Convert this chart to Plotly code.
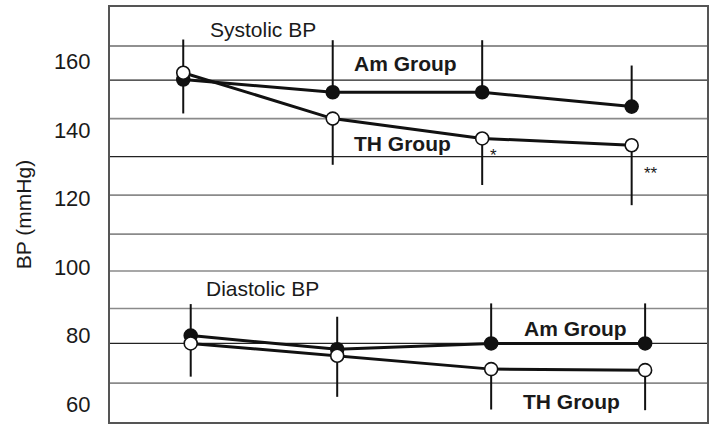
import plotly.graph_objects as go

# ---- data ----
time_points_sys = [1, 2, 3, 4]
time_points_dia = [1.05, 2.03, 3.06, 4.09]

sys_am = [154.8, 151.1, 151.1, 146.9]
sys_am_err_up = [0, 15.2, 15.2, 12.0]
sys_am_err_down = [9.9, 0, 0, 0]

sys_th = [156.8, 143.4, 137.6, 135.6]
sys_th_err_up = [9.7, 0, 0, 0]
sys_th_err_down = [0, 13.5, 13.6, 17.5]

dia_am = [80.0, 76.0, 77.7, 77.7]
dia_am_err_up = [9.2, 9.5, 11.7, 11.7]
dia_am_err_down = [0, 0, 0, 0]

dia_th = [77.7, 74.1, 70.2, 69.9]
dia_th_err_up = [0, 0, 0, 0]
dia_th_err_down = [9.7, 12.0, 11.8, 11.7]

y_ticks = [60, 80, 100, 120, 140, 160]
grid_dark = [164.6, 154.65, 132.3, 77.7]
grid_light = [143.4, 121.05, 109.65, 98.85, 87.9, 66.1]

FONT = "Liberation Sans, Arial, Helvetica, sans-serif"

fig = go.Figure()


def add_series(x, y, up, down, filled):
    fig.add_trace(go.Scatter(
        x=x, y=y, mode="lines+markers",
        line=dict(color="#111", width=3),
        marker=dict(size=13, symbol="circle",
                    color="#111" if filled else "white",
                    line=dict(color="#111", width=1.6)),
        error_y=dict(type="data", symmetric=False, array=up, arrayminus=down,
                     color="#111", thickness=2, width=0),
        showlegend=False, hoverinfo="skip"))


add_series(time_points_sys, sys_am, sys_am_err_up, sys_am_err_down, True)
add_series(time_points_sys, sys_th, sys_th_err_up, sys_th_err_down, False)
add_series(time_points_dia, dia_am, dia_am_err_up, dia_am_err_down, True)
add_series(time_points_dia, dia_th, dia_th_err_up, dia_th_err_down, False)

shapes = []
for v in grid_dark:
    shapes.append(dict(type="line", xref="paper", yref="y", x0=0, x1=1, y0=v, y1=v,
                       line=dict(color="#222", width=1.2), layer="below"))
for v in grid_light:
    shapes.append(dict(type="line", xref="paper", yref="y", x0=0, x1=1, y0=v, y1=v,
                       line=dict(color="#8a8a8a", width=1.6), layer="below"))

annotations = [
    dict(x=1.533, y=169.5, text="Systolic BP"),
    dict(x=2.484, y=159.5, text="<b>Am Group</b>"),
    dict(x=2.464, y=136.2, text="<b>TH Group</b>"),
    dict(x=1.533, y=93.8, text="Diastolic BP"),
    dict(x=3.627, y=82.1, text="<b>Am Group</b>"),
    dict(x=3.600, y=60.7, text="<b>TH Group</b>"),
]
ann = []
for a in annotations:
    ann.append(dict(x=a["x"], y=a["y"], xref="x", yref="y", text=a["text"],
                    showarrow=False, xanchor="center", yanchor="middle",
                    font=dict(family=FONT, size=21, color="#1a1a1a")))

# significance marks next to TH systolic points
ann.append(dict(x=time_points_sys[2], y=sys_th[2], xref="x", yref="y", text="*",
                showarrow=False, xshift=11, yshift=-17,
                font=dict(family=FONT, size=17, color="#1a1a1a")))
ann.append(dict(x=time_points_sys[3], y=sys_th[3], xref="x", yref="y", text="**",
                showarrow=False, xshift=19, yshift=-28,
                font=dict(family=FONT, size=17, color="#1a1a1a")))

fig.update_layout(
    width=710, height=424,
    margin=dict(l=110, r=3, t=7, b=2),
    paper_bgcolor="white", plot_bgcolor="white",
    font=dict(family=FONT, size=21, color="#1a1a1a"),
    shapes=shapes, annotations=ann,
    xaxis=dict(range=[0.51, 4.504], showticklabels=False, showgrid=False,
               zeroline=False, ticks="", showline=True, mirror=True,
               linecolor="#555", linewidth=2),
    yaxis=dict(range=[54.75, 176.0], tickvals=y_ticks, ticktext=[str(t) for t in y_ticks],
               showgrid=False, zeroline=False, ticks="", showline=True, mirror=True,
               linecolor="#555", linewidth=2, ticklabelstandoff=13,
               tickfont=dict(family=FONT, size=22, color="#1a1a1a"),
               title=dict(text="BP (mmHg)", standoff=17,
                          font=dict(family=FONT, size=21, color="#1a1a1a"))),
)

fig.write_html("out.html")
